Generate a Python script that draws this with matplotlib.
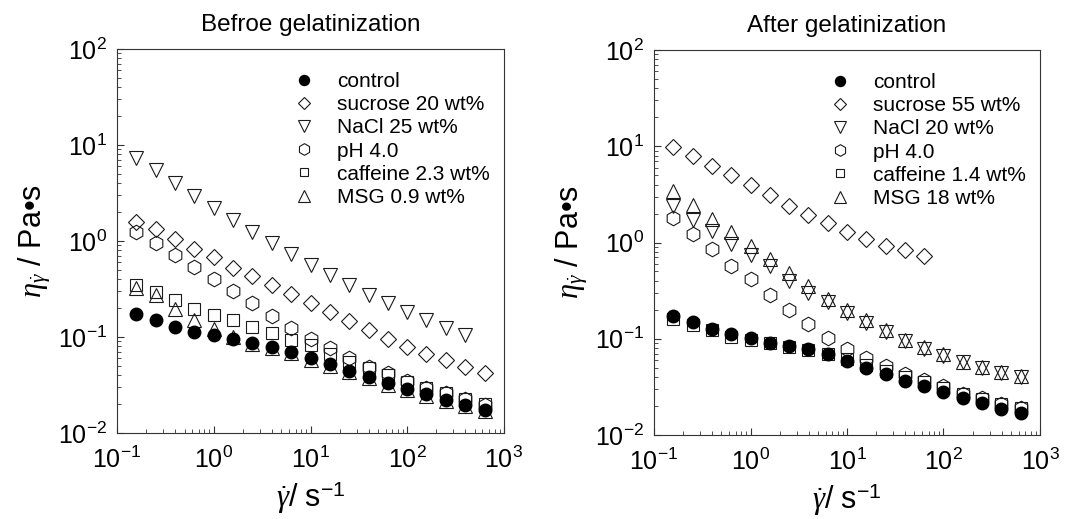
import matplotlib
matplotlib.use("Agg")
import matplotlib.pyplot as plt
from matplotlib.ticker import LogLocator, NullFormatter

plt.rcParams['font.family'] = ['Liberation Sans', 'DejaVu Sans']
plt.rcParams['mathtext.fontset'] = 'custom'
plt.rcParams['mathtext.rm'] = 'Liberation Sans'
plt.rcParams['mathtext.it'] = 'Liberation Serif:italic'

# shear rate (1/s)
rate = [0.158, 0.251, 0.398, 0.631, 1.0, 1.58, 2.51, 3.98, 6.31, 10,
        15.8, 25.1, 39.8, 63.1, 100, 158, 251, 398, 631]

# before gelatinization
b_control = [0.175, 0.152, 0.127, 0.113, 0.105, 0.095, 0.086, 0.079, 0.070, 0.060,
             0.052, 0.044, 0.038, 0.0335, 0.0288, 0.0254, 0.0221, 0.0196, 0.0174]
b_sucrose = [1.58, 1.33, 1.05, 0.826, 0.677, 0.527, 0.437, 0.344, 0.282, 0.226,
             0.182, 0.146, 0.118, 0.0964, 0.079, 0.066, 0.0575, 0.049, 0.042]
b_nacl = [7.37, 5.44, 3.99, 2.95, 2.23, 1.66, 1.25, 0.953, 0.733, 0.565,
          0.445, 0.344, 0.275, 0.224, 0.181, 0.150, 0.125, 0.106]
b_ph = [1.25, 0.953, 0.716, 0.533, 0.404, 0.301, 0.226, 0.166, 0.125, 0.0964,
        0.076, 0.060, 0.049, 0.042, 0.0345, 0.0295, 0.026, 0.0225, 0.0198]
b_caffeine = [0.344, 0.294, 0.241, 0.197, 0.168, 0.149, 0.127, 0.111, 0.094, 0.082,
              0.067, 0.055, 0.047, 0.040, 0.034, 0.0295, 0.0258, 0.0225, 0.020]
b_msg = [0.323, 0.271, 0.197, 0.149, 0.120, 0.100, 0.085, 0.077, 0.068, 0.058,
         0.050, 0.043, 0.037, 0.032, 0.028, 0.0245, 0.0215, 0.019, 0.017]

# after gelatinization
a_control = [0.172, 0.149, 0.125, 0.111, 0.102, 0.0908, 0.084, 0.0774, 0.0687, 0.0586,
             0.050, 0.0426, 0.0363, 0.0322, 0.0279, 0.0244, 0.0213, 0.0188, 0.0168]
a_sucrose = [9.86, 7.87, 6.3, 4.97, 3.91, 3.08, 2.42, 1.92, 1.60, 1.29,
             1.10, 0.93, 0.826, 0.72]
a_nacl = [2.38, 1.73, 1.31, 0.976, 0.75, 0.567, 0.396, 0.30, 0.24, 0.186,
          0.147, 0.117, 0.0944, 0.079, 0.067, 0.057, 0.050, 0.044, 0.040]
a_ph = [1.80, 1.23, 0.846, 0.572, 0.413, 0.288, 0.201, 0.141, 0.101, 0.0787,
        0.0635, 0.052, 0.0433, 0.037, 0.032, 0.027, 0.024, 0.021, 0.019]
a_caffeine = [0.162, 0.140, 0.122, 0.105, 0.097, 0.090, 0.082, 0.076, 0.070, 0.062,
              0.054, 0.046, 0.040, 0.0357, 0.031, 0.027, 0.0234, 0.0211, 0.0192]
a_msg = [3.41, 2.48, 1.76, 1.28, 0.93, 0.666, 0.48, 0.352, 0.26, 0.201,
         0.155, 0.123, 0.098, 0.082, 0.069, 0.058, 0.051, 0.045, 0.041]

labels_b = ["control", "sucrose 20 wt%", "NaCl 25 wt%", "pH 4.0", "caffeine 2.3 wt%", "MSG 0.9 wt%"]
labels_a = ["control", "sucrose 55 wt%", "NaCl 20 wt%", "pH 4.0", "caffeine 1.4 wt%", "MSG 18 wt%"]

ec = "#1a1a1a"
fig = plt.figure(figsize=(10.65, 5.19), dpi=100)
ax1 = fig.add_axes([0.1099, 0.1657, 0.3633, 0.7399])
ax2 = fig.add_axes([0.6141, 0.1618, 0.3624, 0.7419])


def draw(ax, series, labels, title):
    control, sucrose, nacl, ph, caffeine, msg = series
    kw = dict(ls="none", mfc="none", mec=ec, mew=0.8)
    ax.plot(rate[:len(sucrose)], sucrose, marker="D", ms=8, label=labels[1], **kw)
    ax.plot(rate[:len(nacl)], nacl, marker="v", ms=10, label=labels[2], **kw)
    ax.plot(rate[:len(ph)], ph, marker="h", ms=10.5, label=labels[3], **kw)
    ax.plot(rate[:len(caffeine)], caffeine, marker="s", ms=8, label=labels[4], **kw)
    ax.plot(rate[:len(msg)], msg, marker="^", ms=10, label=labels[5], **kw)
    ax.plot(rate[:len(control)], control, ls="none", marker="o", ms=9, color="black",
            label=labels[0], zorder=5)

    ax.set_xscale("log")
    ax.set_yscale("log")
    ax.set_xlim(0.1, 1000)
    ax.set_ylim(0.01, 100)
    ax.xaxis.set_major_locator(LogLocator(base=10, numticks=10))
    ax.xaxis.set_minor_locator(LogLocator(base=10, subs=range(2, 10), numticks=20))
    ax.yaxis.set_minor_locator(LogLocator(base=10, subs=range(2, 10), numticks=20))
    ax.xaxis.set_minor_formatter(NullFormatter())
    ax.yaxis.set_minor_formatter(NullFormatter())
    ax.tick_params(which="both", direction="in", top=False, right=False, color="#333333")
    ax.tick_params(which="major", length=5, width=0.8, labelsize=18)
    ax.tick_params(which="minor", length=3, width=0.6)
    ax.tick_params(axis="x", which="major", pad=10)
    ax.tick_params(axis="y", which="major", pad=7)
    for s in ax.spines.values():
        s.set_linewidth(0.8)
        s.set_color("#333333")

    ax.set_xlabel(r"$\dot{\gamma}$/ s$^{-1}$", fontsize=22, labelpad=4)
    ax.set_ylabel(r"$\eta_{\dot{\gamma}}$" + " / Pa•s", fontsize=22, labelpad=4)
    ax.set_title(title, fontsize=17.5, pad=13)

    h, l = ax.get_legend_handles_labels()
    order = [5, 0, 1, 2, 3, 4]
    ax.legend([h[i] for i in order], [l[i] for i in order], loc="upper left",
              bbox_to_anchor=(0.455, 0.94), frameon=False, fontsize=15,
              borderpad=0, borderaxespad=0, handlelength=1.0, handletextpad=1.1,
              labelspacing=0.2, markerscale=0.8)


draw(ax1, [b_control, b_sucrose, b_nacl, b_ph, b_caffeine, b_msg], labels_b, "Befroe gelatinization")
draw(ax2, [a_control, a_sucrose, a_nacl, a_ph, a_caffeine, a_msg], labels_a, "After gelatinization")

fig.savefig("out.png", dpi=100)
